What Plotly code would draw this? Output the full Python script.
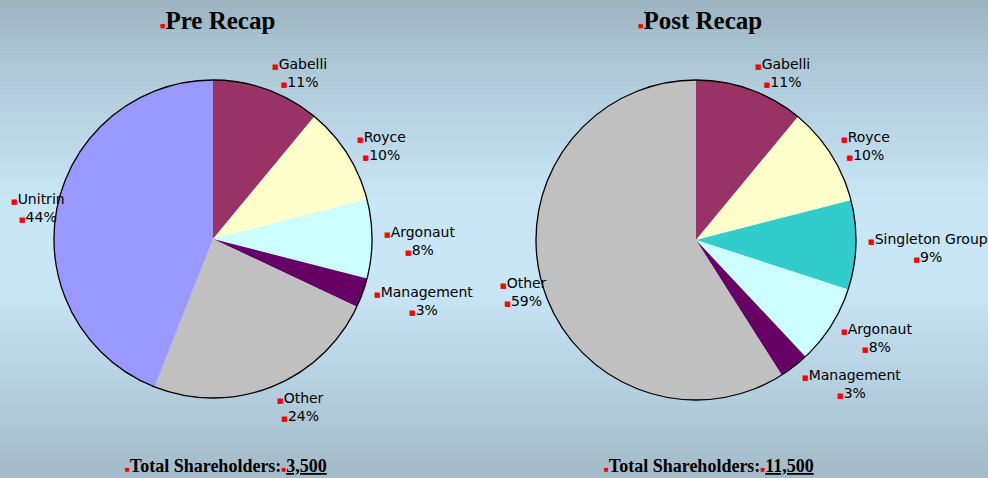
import math
import plotly.graph_objects as go

W, H = 988, 478

pre_labels = ["Gabelli", "Royce", "Argonaut", "Management", "Other", "Unitrin"]
pre_values = [11, 10, 8, 3, 24, 44]
post_labels = ["Gabelli", "Royce", "Singleton Group", "Argonaut", "Management", "Other"]
post_values = [11, 10, 9, 8, 3, 59]

slice_colors = {
    "Gabelli": "#993366", "Royce": "#FFFFCC", "Argonaut": "#CCFFFF",
    "Management": "#660066", "Other": "#C0C0C0", "Unitrin": "#9999FF",
    "Singleton Group": "#33CCCC",
}

titles = ["Pre Recap", "Post Recap"]
totals = ["3,500", "11,500"]

# pie geometry (pixels): centre x, centre y, radius
pies = [(213, 239, 159), (696, 240, 160)]

BUL = "<span style='color:#ff0000;font-size:7px'>■</span>"

fig = go.Figure()

# background gradient
stops = [(0.0, (157, 180, 192)), (0.18, (178, 204, 220)), (0.42, (200, 230, 246)),
         (0.6, (200, 230, 246)), (0.82, (180, 206, 222)), (1.0, (163, 186, 199))]
def col_at(t):
    for (t0, c0), (t1, c1) in zip(stops[:-1], stops[1:]):
        if t0 <= t <= t1:
            f = (t - t0) / (t1 - t0) if t1 > t0 else 0
            return "rgb(%d,%d,%d)" % tuple(round(a + (b - a) * f) for a, b in zip(c0, c1))
    return "rgb(%d,%d,%d)" % stops[-1][1]
shapes = []
n = 120
for i in range(n):
    y0 = 1 - i / n
    y1 = 1 - (i + 1) / n
    shapes.append(dict(type="rect", xref="paper", yref="paper", x0=0, x1=1, y0=y1, y1=y0 + 0.001,
                       fillcolor=col_at((i + 0.5) / n), line=dict(width=0), layer="below"))

annotations = []
for (cx, cy, R), labels, values, title, total in zip(
        pies, [pre_labels, post_labels], [pre_values, post_values], titles, totals):
    dom = dict(x=[(cx - R) / W, (cx + R) / W], y=[(H - cy - R) / H, (H - cy + R) / H])
    fig.add_trace(go.Pie(
        labels=labels, values=values, sort=False, direction="clockwise", rotation=0,
        marker=dict(colors=[slice_colors[l] for l in labels], line=dict(width=0)),
        textinfo="none", hoverinfo="label+percent", showlegend=False, domain=dom,
    ))
    # outer outline
    fig.add_trace(go.Pie(
        values=[1], sort=False, textinfo="none", hoverinfo="skip", showlegend=False,
        marker=dict(colors=["rgba(0,0,0,0)"], line=dict(color="black", width=1.3)),
        domain=dom,
    ))
    tot = sum(values)
    cum = 0
    for lab, v in zip(labels, values):
        mid = (cum + v / 2) / tot * 2 * math.pi
        cum += v
        s, c = math.sin(mid), math.cos(mid)
        if s > 0.05:
            x = cx + 1.06 * R * s
            xa = "left"
        else:
            x = cx + 1.12 * R * s
            xa = "center"
        y = cy - 1.12 * R * c + 2
        pct = round(v / tot * 100)
        annotations.append(dict(
            x=x / W, y=1 - y / H, xref="paper", yref="paper", xanchor=xa, yanchor="middle",
            showarrow=False, align="center",
            text=f"{BUL}{lab}<br>{BUL}{pct}%",
            font=dict(family="DejaVu Sans", size=14, color="black"),
        ))
    annotations.append(dict(
        x=(cx + 4) / W, y=1 - 21 / H, xref="paper", yref="paper", xanchor="center",
        yanchor="middle", showarrow=False,
        text=f"<span style='color:#ff0000;font-size:9px'>■</span><b>{title}</b>",
        font=dict(family="Liberation Serif", size=25, color="black"),
    ))
    annotations.append(dict(
        x=(cx + 13) / W, y=1 - 466 / H, xref="paper", yref="paper", xanchor="center",
        yanchor="middle", showarrow=False,
        text=f"<span style='color:#ff0000;font-size:8px'>■</span><b>Total Shareholders:</b>"
             f"<span style='color:#ff0000;font-size:8px'>■</span><b><u>{total}</u></b>",
        font=dict(family="Liberation Serif", size=18, color="black"),
    ))

fig.update_layout(
    width=W, height=H, margin=dict(l=0, r=0, t=0, b=0),
    paper_bgcolor="#c8e6f6", plot_bgcolor="rgba(0,0,0,0)",
    shapes=shapes, annotations=annotations,
)

fig.write_html("out.html", config={"displayModeBar": False},
               post_script="document.body.style.margin='0';")
